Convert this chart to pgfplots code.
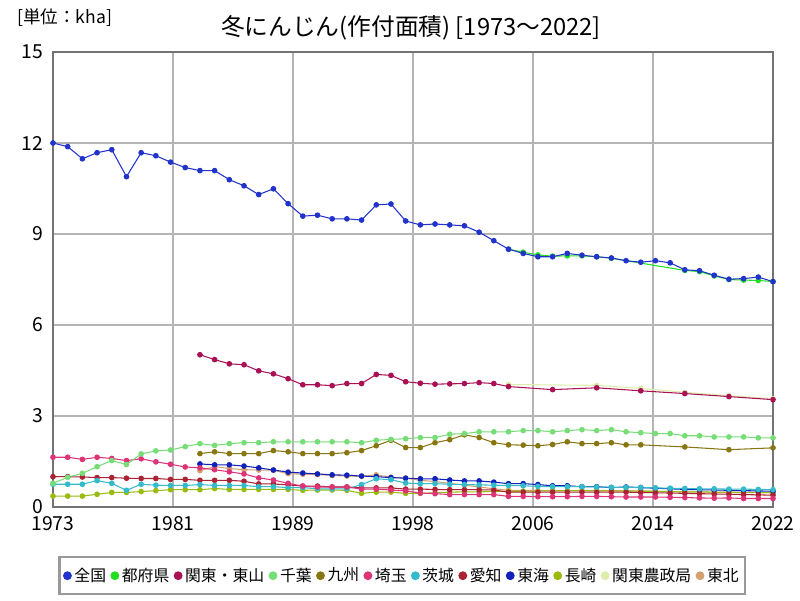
\documentclass[border=0pt]{standalone}
\usepackage{fontspec}
\setmainfont{Noto Sans CJK JP}
\usepackage{pgfplots}
\pgfplotsset{compat=1.18}

\definecolor{cZenkoku}{HTML}{2233CC}
\definecolor{cTofuken}{HTML}{22DD22}
\definecolor{cKanto}{HTML}{AA1155}
\definecolor{cChiba}{HTML}{77DD77}
\definecolor{cKyushu}{HTML}{887711}
\definecolor{cSaitama}{HTML}{DD3377}
\definecolor{cIbaraki}{HTML}{33BBCC}
\definecolor{cAichi}{HTML}{AA2233}
\definecolor{cTokai}{HTML}{1122BB}
\definecolor{cNagasaki}{HTML}{99BB11}
\definecolor{cNosei}{HTML}{DDEEAA}
\definecolor{cTohoku}{HTML}{D4A070}
\definecolor{gridc}{HTML}{B4B4B4}

\begin{document}
\begin{tikzpicture}
\useasboundingbox (0,0) rectangle (16,12);
\node[font=\fontsize{13.5}{15}\selectfont] at (8.22,11.44) {冬にんじん(作付面積) [1973～2022]};
\node[font=\fontsize{10}{12}\selectfont, anchor=west] at (0.22,11.64) {[単位：kha]};
\begin{axis}[
  at={(1.06cm,1.86cm)}, anchor=south west,
  scale only axis, width=14.4cm, height=9.1cm,
  xmin=1973, xmax=2022, ymin=0, ymax=15,
  xtick={1973,1981.1667,1989.3333,1997.5,2005.6667,2013.8333,2022},
  xticklabels={1973,1981,1989,1998,2006,2014,2022},
  ytick={0,3,6,9,12,15},
  major tick length=0pt,
  grid=major,
  major grid style={gridc, line width=1.1pt},
  axis line style={draw=gray!90!black, line width=1.3pt},
  tick label style={font=\fontsize{11}{13}\selectfont},
  /pgf/number format/assume math mode=true,
  yticklabel style={xshift=-2pt},
  xticklabel style={yshift=-2pt},
  every axis plot/.append style={line width=0.6pt, mark=*, mark size=1.3pt},
  legend columns=12,
  reverse legend,
  legend style={at={(0.485,-0.108)}, anchor=north, draw=gray!80, line width=1.2pt,
    font=\fontsize{9}{11}\selectfont, /tikz/every even column/.append style={column sep=1pt},
    inner xsep=2pt, inner ysep=4pt, nodes={inner xsep=1.5pt}},
  legend image code/.code={\fill[#1] (0.15cm,0cm) circle (2.2pt);},
]
% 東北
\addplot[color=cTohoku] coordinates {
 (1983,1.20)(1984,1.33)(1985,1.27)(1986,1.23)(1987,1.22)(1988,1.21)(1989,1.10)(1990,1.08)
 (1991,1.07)(1992,1.04)(1993,1.02)(1994,1.01)(1995,1.06)(1996,0.98)(1997,0.95)(1998,0.88)
 (1999,0.84)(2000,0.78)(2001,0.72)(2002,0.66)(2003,0.60)(2004,0.55)(2007,0.54)(2010,0.54)
 (2013,0.53)(2016,0.50)(2019,0.48)(2022,0.47)};
\addlegendentry{東北}
% 関東農政局
\addplot[color=cNosei] coordinates {
 (2004,4.04)(2010,4.01)(2013,3.91)(2016,3.78)(2019,3.67)(2022,3.57)};
\addlegendentry{関東農政局}
% 長崎
\addplot[color=cNagasaki] coordinates {
 (1973,0.36)(1974,0.36)(1975,0.36)(1976,0.42)(1977,0.48)(1978,0.48)(1979,0.51)(1980,0.54)
 (1981,0.57)(1982,0.57)(1983,0.57)(1984,0.61)(1985,0.58)(1986,0.58)(1987,0.58)(1988,0.58)
 (1989,0.58)(1990,0.55)(1991,0.56)(1992,0.56)(1993,0.55)(1994,0.45)(1995,0.49)(1996,0.49)
 (1997,0.45)(1998,0.45)(1999,0.47)(2000,0.49)(2001,0.50)(2002,0.50)(2003,0.51)(2004,0.52)
 (2005,0.52)(2006,0.53)(2007,0.53)(2008,0.54)(2009,0.54)(2010,0.53)(2011,0.53)(2012,0.53)
 (2013,0.52)(2014,0.52)(2015,0.51)(2016,0.50)(2017,0.50)(2018,0.49)(2019,0.49)(2020,0.48)
 (2021,0.48)(2022,0.47)};
\addlegendentry{長崎}
% 東海
\addplot[color=cTokai] coordinates {
 (1983,1.42)(1984,1.39)(1985,1.39)(1986,1.35)(1987,1.29)(1988,1.22)(1989,1.15)(1990,1.12)
 (1991,1.09)(1992,1.06)(1993,1.05)(1994,1.02)(1995,1.0)(1996,0.97)(1997,0.95)(1998,0.93)
 (1999,0.93)(2000,0.89)(2001,0.86)(2002,0.86)(2003,0.82)(2004,0.77)(2005,0.77)(2006,0.74)
 (2007,0.70)(2008,0.70)(2009,0.67)(2010,0.67)(2011,0.64)(2012,0.66)(2013,0.64)(2014,0.62)
 (2015,0.60)(2016,0.58)(2017,0.57)(2018,0.56)(2019,0.55)(2020,0.54)(2021,0.53)(2022,0.52)};
\addlegendentry{東海}
% 愛知
\addplot[color=cAichi] coordinates {
 (1973,1.0)(1974,1.0)(1975,0.99)(1976,0.97)(1977,0.97)(1978,0.95)(1979,0.94)(1980,0.94)
 (1981,0.91)(1982,0.91)(1983,0.88)(1984,0.88)(1985,0.88)(1986,0.85)(1987,0.76)(1988,0.76)
 (1989,0.73)(1990,0.69)(1991,0.69)(1992,0.66)(1993,0.66)(1994,0.63)(1995,0.63)(1996,0.63)
 (1997,0.59)(1998,0.59)(1999,0.58)(2000,0.57)(2001,0.57)(2002,0.57)(2003,0.56)(2004,0.49)
 (2005,0.49)(2006,0.49)(2007,0.49)(2008,0.49)(2009,0.49)(2010,0.49)(2011,0.49)(2012,0.49)
 (2013,0.48)(2014,0.47)(2015,0.46)(2016,0.45)(2017,0.44)(2018,0.43)(2019,0.42)(2020,0.41)
 (2021,0.40)(2022,0.39)};
\addlegendentry{愛知}
% 茨城
\addplot[color=cIbaraki] coordinates {
 (1973,0.75)(1974,0.75)(1975,0.75)(1976,0.87)(1977,0.78)(1978,0.55)(1979,0.75)(1980,0.72)
 (1981,0.71)(1982,0.71)(1983,0.74)(1984,0.71)(1985,0.71)(1986,0.71)(1987,0.67)(1988,0.67)
 (1989,0.64)(1990,0.64)(1991,0.60)(1992,0.60)(1993,0.60)(1994,0.74)(1995,0.93)(1996,0.90)
 (1997,0.79)(1998,0.77)(1999,0.77)(2000,0.75)(2001,0.74)(2002,0.73)(2003,0.72)(2004,0.71)
 (2005,0.70)(2006,0.68)(2007,0.67)(2008,0.67)(2009,0.67)(2010,0.66)(2011,0.65)(2012,0.65)
 (2013,0.64)(2014,0.63)(2015,0.62)(2016,0.61)(2017,0.60)(2018,0.60)(2019,0.59)(2020,0.59)
 (2021,0.58)(2022,0.57)};
\addlegendentry{茨城}
% 埼玉
\addplot[color=cSaitama] coordinates {
 (1973,1.64)(1974,1.64)(1975,1.57)(1976,1.64)(1977,1.60)(1978,1.53)(1979,1.59)(1980,1.49)
 (1981,1.41)(1982,1.32)(1983,1.29)(1984,1.23)(1985,1.16)(1986,1.09)(1987,0.96)(1988,0.89)
 (1989,0.78)(1990,0.69)(1991,0.66)(1992,0.66)(1993,0.66)(1994,0.59)(1995,0.59)(1996,0.56)
 (1997,0.53)(1998,0.46)(1999,0.44)(2000,0.41)(2001,0.41)(2002,0.41)(2003,0.41)(2004,0.35)
 (2005,0.35)(2006,0.34)(2007,0.34)(2008,0.34)(2009,0.35)(2010,0.35)(2011,0.34)(2012,0.33)
 (2013,0.33)(2014,0.33)(2015,0.32)(2016,0.31)(2017,0.30)(2018,0.29)(2019,0.30)(2020,0.28)
 (2021,0.28)(2022,0.28)};
\addlegendentry{埼玉}
% 九州
\addplot[color=cKyushu] coordinates {
 (1983,1.76)(1984,1.82)(1985,1.76)(1986,1.76)(1987,1.76)(1988,1.86)(1989,1.82)(1990,1.76)
 (1991,1.76)(1992,1.76)(1993,1.79)(1994,1.86)(1995,2.02)(1996,2.20)(1997,1.96)(1998,1.96)
 (1999,2.12)(2000,2.22)(2001,2.38)(2002,2.29)(2003,2.12)(2004,2.05)(2005,2.04)(2006,2.02)
 (2007,2.06)(2008,2.15)(2009,2.09)(2010,2.09)(2011,2.12)(2012,2.05)(2013,2.05)(2016,1.98)
 (2019,1.89)(2022,1.95)};
\addlegendentry{九州}
% 千葉
\addplot[color=cChiba] coordinates {
 (1973,0.78)(1974,0.98)(1975,1.11)(1976,1.33)(1977,1.53)(1978,1.40)(1979,1.75)(1980,1.85)
 (1981,1.88)(1982,1.99)(1983,2.09)(1984,2.03)(1985,2.09)(1986,2.12)(1987,2.12)(1988,2.15)
 (1989,2.15)(1990,2.15)(1991,2.15)(1992,2.15)(1993,2.15)(1994,2.12)(1995,2.20)(1996,2.23)
 (1997,2.25)(1998,2.29)(1999,2.29)(2000,2.40)(2001,2.42)(2002,2.48)(2003,2.48)(2004,2.48)
 (2005,2.52)(2006,2.52)(2007,2.48)(2008,2.52)(2009,2.55)(2010,2.52)(2011,2.55)(2012,2.48)
 (2013,2.45)(2014,2.42)(2015,2.42)(2016,2.35)(2017,2.35)(2018,2.31)(2019,2.31)(2020,2.31)
 (2021,2.28)(2022,2.28)};
\addlegendentry{千葉}
% 関東・東山
\addplot[color=cKanto] coordinates {
 (1983,5.02)(1984,4.86)(1985,4.72)(1986,4.69)(1987,4.49)(1988,4.39)(1989,4.23)(1990,4.03)
 (1991,4.03)(1992,4.0)(1993,4.07)(1994,4.07)(1995,4.37)(1996,4.34)(1997,4.13)(1998,4.08)
 (1999,4.05)(2000,4.06)(2001,4.07)(2002,4.10)(2003,4.07)(2004,3.97)(2007,3.87)(2010,3.93)
 (2013,3.83)(2016,3.74)(2019,3.64)(2022,3.54)};
\addlegendentry{関東・東山}
% 都府県
\addplot[color=cTofuken] coordinates {
 (2004,8.50)(2005,8.40)(2006,8.31)(2007,8.27)(2008,8.28)(2009,8.28)(2010,8.25)(2011,8.20)
 (2016,7.80)(2017,7.76)(2018,7.62)(2019,7.50)(2020,7.48)(2021,7.47)(2022,7.43)};
\addlegendentry{都府県}
% 全国
\addplot[color=cZenkoku] coordinates {
 (1973,12.0)(1974,11.88)(1975,11.48)(1976,11.68)(1977,11.78)(1978,10.89)(1979,11.68)(1980,11.58)
 (1981,11.37)(1982,11.19)(1983,11.09)(1984,11.09)(1985,10.79)(1986,10.59)(1987,10.30)(1988,10.49)
 (1989,10.0)(1990,9.59)(1991,9.62)(1992,9.5)(1993,9.5)(1994,9.46)(1995,9.96)(1996,9.99)
 (1997,9.43)(1998,9.3)(1999,9.33)(2000,9.3)(2001,9.27)(2002,9.06)(2003,8.78)(2004,8.50)
 (2005,8.36)(2006,8.25)(2007,8.25)(2008,8.36)(2009,8.30)(2010,8.25)(2011,8.21)(2012,8.12)
 (2013,8.07)(2014,8.12)(2015,8.05)(2016,7.82)(2017,7.79)(2018,7.64)(2019,7.51)(2020,7.53)
 (2021,7.58)(2022,7.43)};
\addlegendentry{全国}
\end{axis}
\end{tikzpicture}
\end{document}
